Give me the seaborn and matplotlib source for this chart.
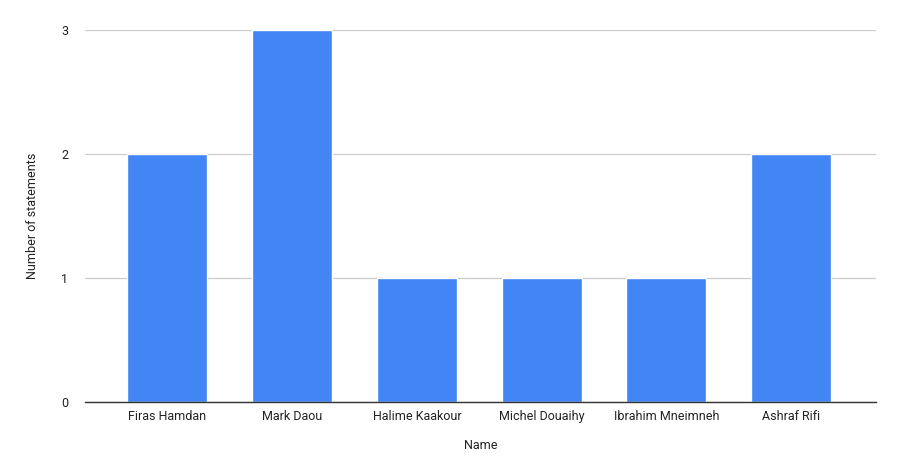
import matplotlib
matplotlib.use("Agg")
import matplotlib.pyplot as plt
import seaborn as sns
import pandas as pd

names = ["Firas Hamdan", "Mark Daou", "Halime Kaakour", "Michel Douaihy", "Ibrahim Mneimneh", "Ashraf Rifi"]
statements = [2, 3, 1, 1, 1, 2]
yticks = [0, 1, 2, 3]

sns.set_theme(style="white")
plt.rcParams['font.family'] = ['Roboto', 'DejaVu Sans']

df = pd.DataFrame({"Name": names, "Number of statements": statements})

fig = plt.figure(figsize=(9, 4.76), dpi=100)
ax = fig.add_axes([0.0944, 0.1555, 0.8789, 0.7815])
sns.barplot(data=df, x="Name", y="Number of statements", color="#4285F4",
            saturation=1, width=0.64, ax=ax, zorder=3)
ax.set_xlim(-0.66, 5.68)
ax.set_ylim(0, 3)
ax.set_yticks(yticks)
ax.grid(axis="y", color="#cccccc", linewidth=0.9, zorder=0)
for s in ["top", "right", "left"]:
    ax.spines[s].set_visible(False)
ax.spines["bottom"].set_color("#333333")
ax.spines["bottom"].set_linewidth(1)
ax.spines["bottom"].set_zorder(4)
ax.tick_params(axis="both", length=0, labelsize=9, colors="#222222", pad=6)
ax.tick_params(axis="y", pad=12)
ax.set_xlabel("Name", fontsize=9, color="#222222", labelpad=11)
ax.set_ylabel("Number of statements", fontsize=9, color="#222222", labelpad=16)
fig.savefig("out.png", dpi=100, facecolor="white")
